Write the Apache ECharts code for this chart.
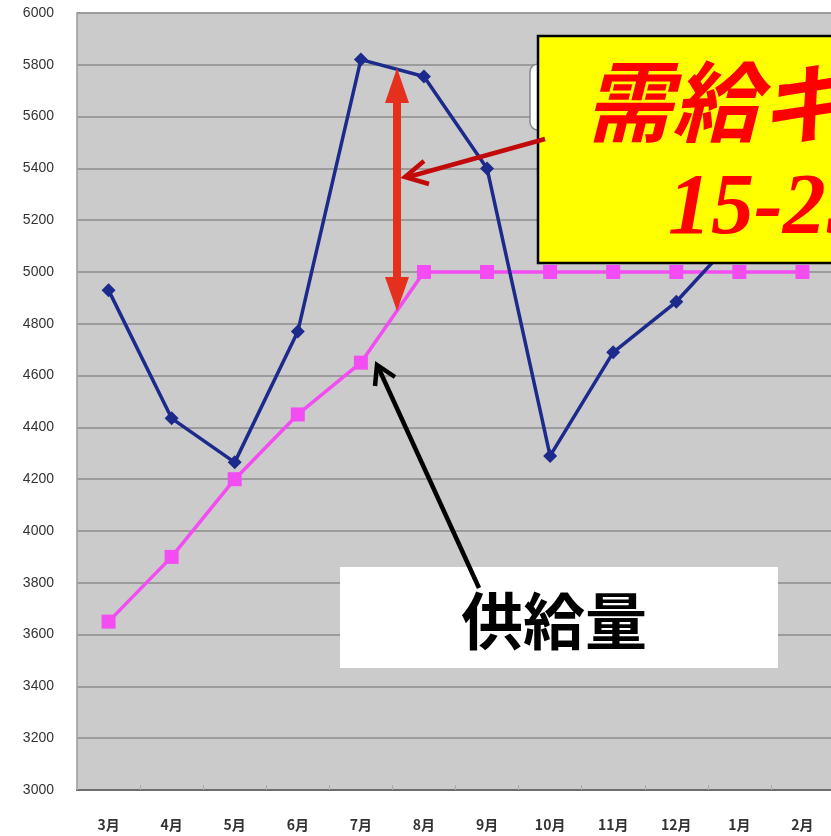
<!DOCTYPE html>
<html>
<head>
<meta charset="utf-8">
<script src="https://cdn.jsdelivr.net/npm/echarts@6/dist/echarts.min.js"></script>
<style>
html,body{margin:0;padding:0;background:#fff;}
#chart{width:831px;height:836px;}
</style>
</head>
<body>
<div id="chart"></div>
<script>
// 月
var months = ['3月','4月','5月','6月','7月','8月','9月','10月','11月','12月','1月','2月'];
// 需要量（紺）
var demand = [4930, 4435, 4265, 4770, 5820, 5755, 5400, 4290, 4690, 4885, 5150, 5300];
// 供給量（ピンク）
var supply = [3650, 3900, 4200, 4450, 4650, 5000, 5000, 5000, 5000, 5000, 5000, 5000];
var yMin = 3000, yMax = 6000, yStep = 200;

var chart = echarts.init(document.getElementById('chart'));
var option = {
    animation:false,
    backgroundColor:'#fff',
    grid:{
        left:77, top:13, width:757, height:777,
        show:true, backgroundColor:'#cbcbcb', borderColor:'#9a9a9a', borderWidth:1.5,
        outerBoundsMode:'none'
    },
    xAxis:{
        type:'category',
        data:months,
        boundaryGap:true,
        axisLine:{lineStyle:{color:'#6e6e6e',width:2}},
        axisTick:{show:true,inside:true,length:5,lineStyle:{color:'#aaa'}},
        axisLabel:{color:'#333',fontSize:14,fontWeight:'bold',margin:28,fontFamily:'Noto Sans CJK JP'}
    },
    yAxis:{
        type:'value',
        min:yMin, max:yMax, interval:yStep,
        axisLine:{show:false},
        axisTick:{show:false},
        axisLabel:{color:'#333',fontSize:14,margin:23,fontFamily:'Liberation Sans',
            formatter:function(v){ return String(v); }},
        splitLine:{lineStyle:{color:'#9c9c9c',width:2}}
    },
    series:[
        {
            name:'需要量',
            type:'line',
            data:demand,
            symbol:'diamond',
            symbolSize:14,
            lineStyle:{color:'#1c2a8c',width:3.5},
            itemStyle:{color:'#1c2a8c'},
            z:3
        },
        {
            name:'供給量',
            type:'line',
            data:supply,
            symbol:'rect',
            symbolSize:14,
            lineStyle:{color:'#f24cf2',width:3.5},
            itemStyle:{color:'#f24cf2'},
            z:2
        }
    ],
    graphic:[
        // 吹き出し（後ろ）
        {type:'rect',z:10,shape:{x:530,y:64,width:40,height:66,r:8},style:{fill:'#fff',stroke:'#888',lineWidth:1.5}},
        // 黄色ボックス
        {type:'rect',z:11,shape:{x:538,y:36,width:300,height:227},style:{fill:'#ffff00',stroke:'#000',lineWidth:2.5}},
        {type:'text',z:12,style:{x:584,y:58,text:'需給ギャップ',font:'italic bold 88px "Noto Sans CJK JP"',fill:'#ff0000'}},
        {type:'text',z:12,style:{x:668,y:168,text:'15-25%',font:'italic bold 86px "Liberation Serif"',fill:'#ff0000'}},
        // 赤い矢印（斜め）
        {type:'line',z:12,shape:{x1:545,y1:139,x2:408,y2:177},style:{stroke:'#c20a0a',lineWidth:4.5}},
        {type:'polyline',z:12,shape:{points:[[424,161],[405,177],[429,184]]},style:{stroke:'#c20a0a',lineWidth:4.5,fill:null}},
        // 両矢印
        {type:'rect',z:12,shape:{x:393,y:98,width:8,height:184},style:{fill:'#e4301c'}},
        {type:'polygon',z:12,shape:{points:[[397,68],[385,103],[409,103]]},style:{fill:'#e4301c'}},
        {type:'polygon',z:12,shape:{points:[[397,311],[385,277],[409,277]]},style:{fill:'#e4301c'}},
        // 供給量ラベル
        {type:'rect',z:10,shape:{x:340,y:567,width:438,height:101},style:{fill:'#fff'}},
        {type:'text',z:12,style:{x:554,y:621,text:'供給量',font:'bold 62px "Noto Sans CJK JP"',fill:'#000',align:'center',verticalAlign:'middle'}},
        {type:'line',z:12,shape:{x1:479,y1:588,x2:379,y2:369},style:{stroke:'#000',lineWidth:4.5}},
        {type:'polyline',z:12,shape:{points:[[395,377],[377,365],[375,386]]},style:{stroke:'#000',lineWidth:4.5,fill:null}}
    ]
};
chart.setOption(option);
</script>
</body>
</html>
